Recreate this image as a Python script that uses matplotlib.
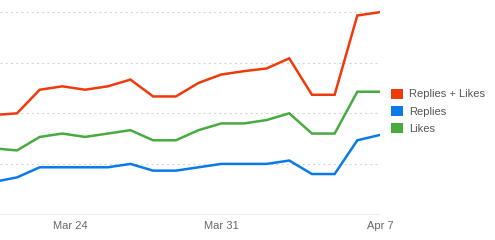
import numpy as np
import pandas as pd
import matplotlib
matplotlib.use("Agg")
import matplotlib.pyplot as plt
import matplotlib.transforms as mtransforms
from matplotlib.patches import Patch

# ====================================================================
# DATA (daily counts, Mar 21 - Apr 7)
# ====================================================================
days = pd.date_range("2013-03-21", "2013-04-07", freq="D")

replies = [9.7, 11, 14, 14, 14, 14, 15, 13, 13, 14, 15, 15, 15, 16, 12, 12, 22, 23.6]
likes = [19.6, 19, 23, 24, 23, 24, 25, 22, 22, 25, 27, 27, 28, 30, 24, 24, 36.4, 36.4]
replies_likes = [29.5, 30, 37, 38, 37, 38, 40, 35, 35, 39, 41.5, 42.5, 43.3, 46.3, 35.5, 35.5, 59, 60]

series_names = ["Replies + Likes", "Replies", "Likes"]
series_colors = ["#ef3a0c", "#0a7ae8", "#47ab3f"]
tick_days = pd.to_datetime(["2013-03-24", "2013-03-31", "2013-04-07"])
tick_labels = ["Mar 24", "Mar 31", "Apr 7"]
grid_vals = [15, 30, 45, 60]

# ====================================================================
# FIGURE
# ====================================================================
plt.rcParams["font.family"] = ["Liberation Sans", "DejaVu Sans"]

fig = plt.figure(figsize=(4.95, 2.4), dpi=100)
ax = fig.add_axes([0.0, 25.5 / 240, 380 / 495, 214.5 / 240])

for vals, color in zip([replies_likes, replies, likes], series_colors):
    ax.plot(days, vals, color=color, linewidth=1.8, solid_joinstyle="miter")

for gv in grid_vals:
    ax.axhline(gv, color="#d4d4d4", linewidth=0.75, linestyle=(0, (2, 3)), zorder=0)
ax.axhline(0, color="#a0a0a0", linewidth=1.0, zorder=0)

ax.set_xlim(days[0] + pd.Timedelta(hours=6), days[-1])
ax.set_ylim(0, 63.6)

ax.set_xticks(tick_days)
ax.set_xticklabels(tick_labels)
ax.tick_params(axis="x", length=0, pad=4.5, labelsize=8, labelcolor="#666666")
ax.set_yticks([])
for sp in ax.spines.values():
    sp.set_visible(False)

# first label sits a little right of its day in the original
lbl = ax.get_xticklabels()[0]
lbl.set_transform(lbl.get_transform() + mtransforms.ScaledTranslation(8 / 100, 0, fig.dpi_scale_trans))

handles = [Patch(facecolor=c, edgecolor="none") for c in series_colors]
fig.legend(handles, series_names, loc="upper left",
           bbox_to_anchor=(391 / 495, 1 - 88.5 / 240),
           frameon=False, fontsize=8, labelcolor="#555555",
           handlelength=1.05, handleheight=1.05, handletextpad=0.55,
           labelspacing=0.55, borderpad=0, borderaxespad=0)

fig.savefig("out.png", dpi=100)
plt.close(fig)
